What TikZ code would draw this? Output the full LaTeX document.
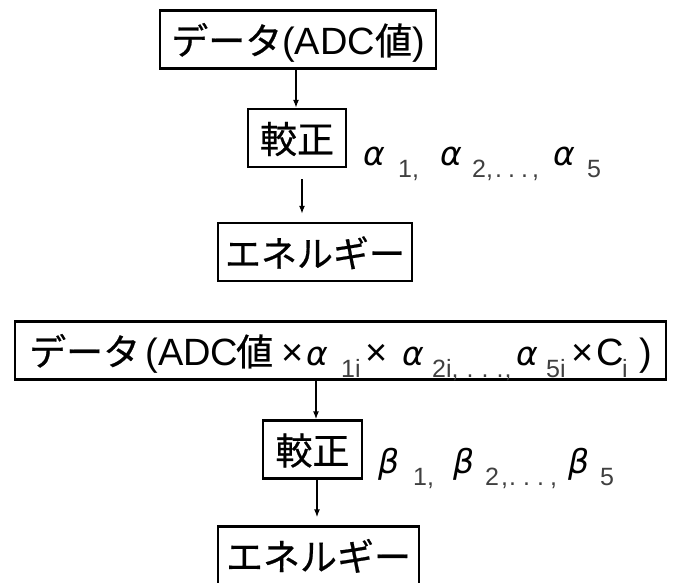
\documentclass[tikz,border=0pt]{standalone}
\usepackage{fontspec}
\setmainfont{Liberation Sans}
\newfontfamily\cjk[FakeBold=0.6]{Noto Sans CJK JP}
\newfontfamily\grk{DejaVu Sans}
\usetikzlibrary{arrows.meta}
\newcommand\gk[1]{{\grk\itshape\fontsize{33}{34}\selectfont #1}}
\newcommand\sbs[1]{\raisebox{-12pt}[0pt][0pt]{\fontsize{25}{25}\selectfont\color{black!75}#1}}
\newcommand\pc[2]{\makebox[#1][l]{#2}}
\newcommand\tdots[1]{\makebox[#1][l]{.}\makebox[#1][l]{.}.}
\tikzset{
  box/.style={draw=black, line width=2.4pt, inner xsep=0pt, inner ysep=0pt,
              minimum height=58pt, text height=30pt, text depth=0pt,
              font=\fontsize{38}{40}\selectfont},
  arr/.style={line width=1.4pt, -{Latex[length=8pt,width=6pt]}},
  lbl/.style={inner sep=0pt, font=\fontsize{38}{40}\selectfont},
}
\begin{document}
\begin{tikzpicture}[x=1pt,y=-1pt]
\useasboundingbox (0,0) rectangle (680,582);
\fill[white] (0,0) rectangle (680,582);
% upper chain
\node[box, minimum width=276pt] (b1) at (298,39.5) {{\cjk\fontsize{37}{40}\selectfont データ}(ADC{\cjk\fontsize{37}{40}\selectfont 値})};
\node[box, minimum width=98pt] (b2) at (297,138) {\cjk\fontsize{37}{40}\selectfont 較正};
\node[box, minimum width=194pt] (b3) at (315,252) {\cjk\fontsize{36}{40}\selectfont エネルギー};
\node[lbl, anchor=base west] (la) at (363,165)
  {\pc{35pt}{\gk{α}}\pc{42pt}{\sbs{1,}}\pc{32pt}{\gk{α}}%
   \pc{81pt}{\sbs{2,\hspace{2pt}\tdots{13pt}\hspace{4pt},}}\pc{34pt}{\gk{α}}\sbs{5}};
\coordinate (x1) at (296,0);
\coordinate (x2) at (302,0);
\draw[arr] (x1 |- b1.south) -- (x1 |- b2.north);
\draw[arr, shorten <=11pt, shorten >=8pt] (x2 |- b2.south) -- (x2 |- b3.north);
% lower chain
\node[box, anchor=west, inner xsep=14pt] (b4) at (14,350.5)
  {\pc{116pt}{\cjk\fontsize{37}{40}\selectfont データ}%
   \pc{13pt}{(}%
   \pc{78pt}{ADC}%
   \pc{45pt}{\cjk\fontsize{37}{40}\selectfont 値}%
   \pc{25pt}{×}%
   \pc{35pt}{\gk{α}}%
   \pc{24pt}{\sbs{1i}}%
   \pc{37pt}{×}%
   \pc{30pt}{\gk{α}}%
   \pc{84pt}{\sbs{2i,\hspace{8pt}\tdots{15pt}\hspace{1pt},}}%
   \pc{30pt}{\gk{α}}%
   \pc{25pt}{\sbs{5i}}%
   \pc{25pt}{×}%
   \pc{26pt}{C}%
   \pc{17pt}{\sbs{i}}%
   )\hspace{40pt}};
\node[box, minimum width=99pt] (b5) at (312.5,449.5) {\cjk\fontsize{37}{40}\selectfont 較正};
\node[box, minimum width=201pt] (b6) at (318.5,555.5) {\cjk\fontsize{37}{40}\selectfont エネルギー};
\node[lbl, anchor=base west] (lb) at (378,473)
  {\pc{35pt}{\gk{β}}\pc{40pt}{\sbs{1,}}\pc{32pt}{\gk{β}}%
   \pc{83pt}{\sbs{2\hspace{2pt},\hspace{1pt}\tdots{14pt}\hspace{6pt},}}\pc{32pt}{\gk{β}}\sbs{5}};
\coordinate (x3) at (316,0);
\coordinate (x4) at (317,0);
\draw[arr] (x3 |- b4.south) -- (x3 |- b5.north);
\draw[arr, shorten >=8pt] (x4 |- b5.south) -- (x4 |- b6.north);
\end{tikzpicture}
\end{document}
